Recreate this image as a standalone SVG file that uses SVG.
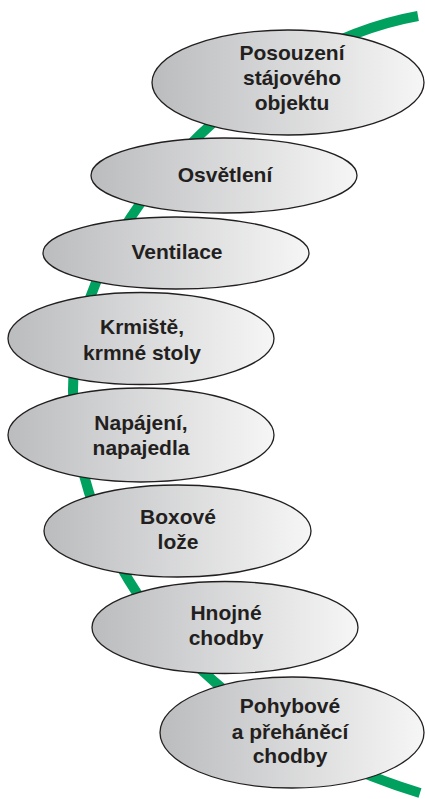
<svg xmlns="http://www.w3.org/2000/svg" width="425" height="799" viewBox="0 0 425 799">
<defs>
<linearGradient id="g" x1="0" y1="0" x2="1" y2="0">
<stop offset="0" stop-color="#bbbcbe"/>
<stop offset="1" stop-color="#f6f6f6"/>
</linearGradient>
<style>
.n ellipse{fill:url(#g);stroke:#231f20;stroke-width:1.3}
.n text{font-family:"Liberation Sans",Arial,sans-serif;font-weight:bold;font-size:21px;fill:#231f20;text-anchor:middle}
.c{fill:none;stroke:#00a05e;stroke-width:10}
</style>
</defs>
<rect width="425" height="799" fill="#ffffff"/>
<g id="connectors">
<path class="c" d="M418,16 C250,46 73,225 73,390 C73,540 180,720 420,793"/>
</g>
<g id="n1" class="n"><ellipse cx="288" cy="82.5" rx="136" ry="52.5"/><text x="292" y="60">Posouzení</text><text x="292" y="85">stájového</text><text x="292" y="110">objektu</text></g>
<g id="n2" class="n"><ellipse cx="224" cy="175.5" rx="133" ry="37.5"/><text x="225" y="182">Osvětlení</text></g>
<g id="n3" class="n"><ellipse cx="176" cy="253" rx="133" ry="36"/><text x="177" y="259">Ventilace</text></g>
<g id="n4" class="n"><ellipse cx="141" cy="338.5" rx="133" ry="46"/><text x="142" y="334">Krmiště,</text><text x="142" y="360">krmné stoly</text></g>
<g id="n5" class="n"><ellipse cx="141" cy="435" rx="133" ry="47"/><text x="141" y="430">Napájení,</text><text x="141" y="455">napajedla</text></g>
<g id="n6" class="n"><ellipse cx="177.5" cy="531" rx="133.5" ry="46"/><text x="178" y="524">Boxové</text><text x="178" y="549">lože</text></g>
<g id="n7" class="n"><ellipse cx="225" cy="627.5" rx="133" ry="46"/><text x="226" y="620">Hnojné</text><text x="226" y="645">chodby</text></g>
<g id="n8" class="n"><ellipse cx="292" cy="732.5" rx="132" ry="55.5"/><text x="290" y="713">Pohybové</text><text x="290" y="739">a přeháněcí</text><text x="290" y="763">chodby</text></g>
</svg>
